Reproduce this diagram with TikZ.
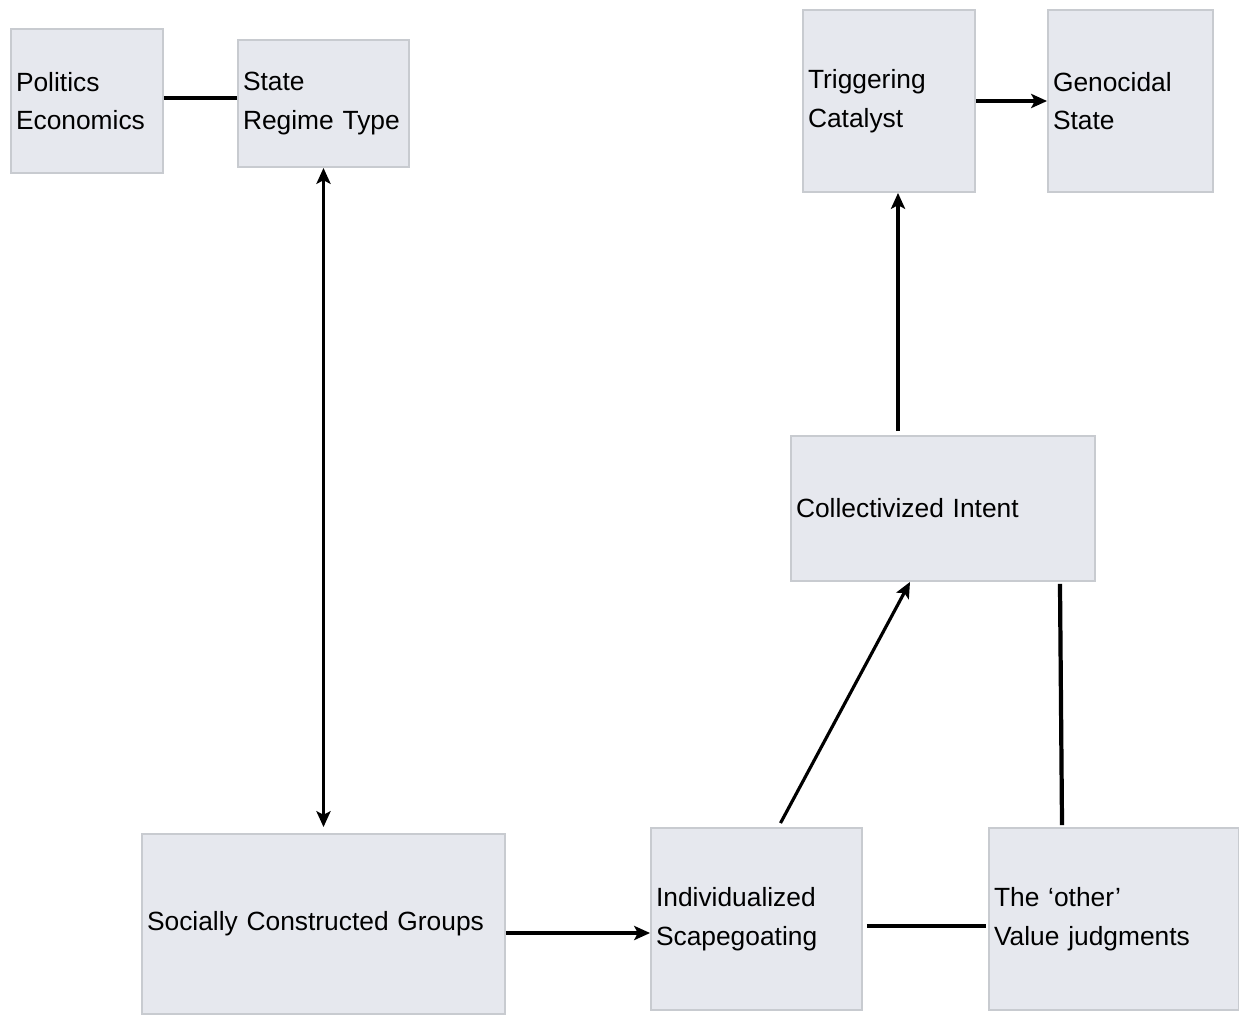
\documentclass[tikz,border=0pt]{standalone}
\usepackage{fontspec}
\setmainfont{Liberation Sans}
\usetikzlibrary{shapes.geometric, arrows.meta}

\definecolor{boxfill}{RGB}{230,232,238}
\definecolor{boxline}{RGB}{200,203,208}

\begin{document}
\begin{tikzpicture}[x=0.02cm, y=-0.02cm]

  \tikzstyle{factor} = [rectangle, align=left, inner xsep=0.1cm, draw=boxline, line width=1.1pt, fill=boxfill, font=\fontsize{15pt}{22pt}\selectfont]
  \tikzstyle{link} = [line width=2.4pt]
  \tikzstyle{arrow} = [line width=2.4pt,->,>={Stealth[length=9pt,width=8pt,inset=2pt]}]
  \tikzstyle{varrow} = [line width=1.8pt,->,>={Stealth[length=9pt,width=8pt,inset=2pt]}]

  \useasboundingbox (0,0) rectangle (1239,1014);

  \node (politics) [factor, text width=2.84cm, minimum height=2.88cm] at (87,101) {Politics\\Economics};
  \node (state)    [factor, text width=3.22cm, minimum height=2.54cm] at (323.5,103.5) {State\\Regime Type};
  \node (trigger)  [factor, text width=3.24cm, minimum height=3.64cm] at (889,101) {Triggering\\Catalyst};
  \node (genocide) [factor, text width=3.10cm, minimum height=3.64cm] at (1130.5,101) {Genocidal\\State};
  \node (intent)   [factor, text width=5.88cm, minimum height=2.90cm] at (943,508.5) {Collectivized Intent};
  \node (groups)   [factor, text width=7.06cm, minimum height=3.60cm] at (323.5,924) {Socially Constructed Groups};
  \node (scapegoat)[factor, text width=4.02cm, minimum height=3.64cm] at (756.5,919) {Individualized\\Scapegoating};
  \node (other)    [factor, text width=4.80cm, minimum height=3.64cm] at (1114,919) {The ‘other’\\Value judgments};

  \draw [link] ([yshift=0.06cm]politics.east) -- ([yshift=0.06cm]politics.east -| state.west);
  \draw [varrow, <->] (state.south) -- ([yshift=0.12cm]groups.north);
  \draw [arrow] ([yshift=-0.18cm]groups.east) -- ([yshift=-0.18cm]groups.east -| scapegoat.west);
  \draw [link] ([xshift=0.08cm,yshift=-0.14cm]scapegoat.east) -- ([xshift=-0.04cm,yshift=-0.14cm]scapegoat.east -| other.west);
  \draw [varrow] ([xshift=0.48cm,yshift=0.08cm]scapegoat.north) -- ([xshift=-0.66cm]intent.south);
  \draw [link] ([xshift=-1.04cm,yshift=0.04cm]other.north) -- ([xshift=2.34cm,yshift=-0.04cm]intent.south);
  \draw [varrow] ([xshift=-0.9cm,yshift=0.08cm]intent.north) -- ([xshift=-0.9cm]intent.north |- trigger.south);
  \draw [arrow] (trigger.east) -- (trigger.east -| genocide.west);

\end{tikzpicture}
\end{document}
